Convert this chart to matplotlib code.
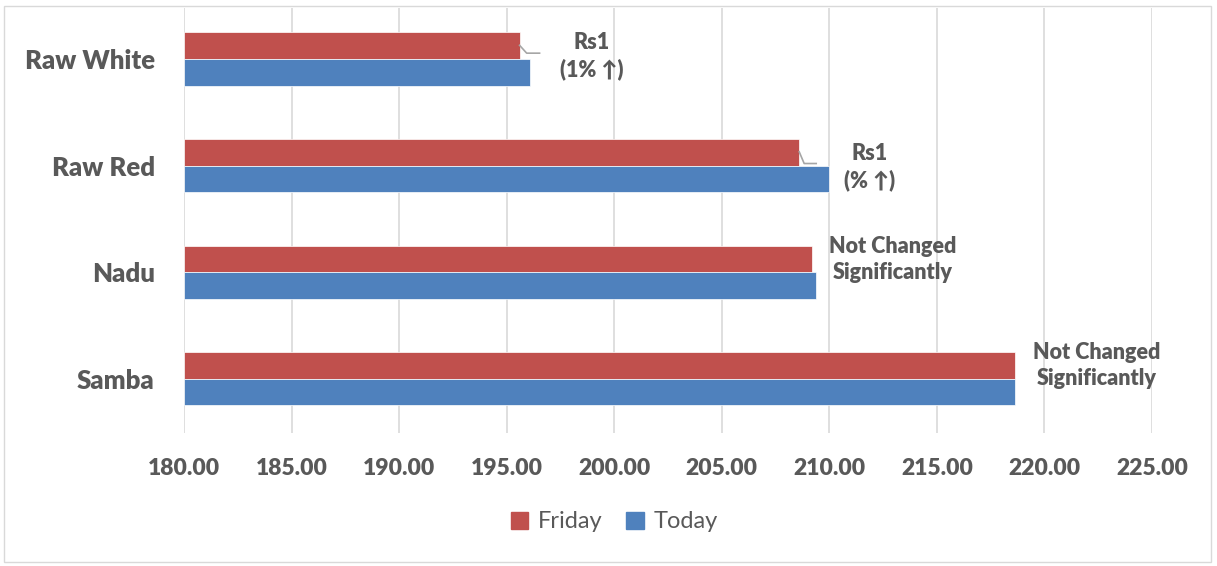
import matplotlib.pyplot as plt
import matplotlib.patches as mpatches
import numpy as np

categories = ["Raw White", "Raw Red", "Nadu", "Samba"]
friday = [195.6, 208.6, 209.2, 218.65]
today = [196.1, 210.0, 209.4, 218.65]
notes = ["Rs1\n(1% \u2191)", "Rs1\n(% \u2191)", "Not Changed\nSignificantly", "Not Changed\nSignificantly"]
ticks = np.arange(180, 226, 5)

plt.rcParams['font.family'] = ['Lato', 'DejaVu Sans']
grey = "#595959"
red = "#C0504D"
blue = "#4F81BD"
bold = 800

fig = plt.figure(figsize=(12.17, 5.66), dpi=100)
ax = fig.add_axes([184/1217, 1-433/566, (1152-184)/1217, (433-8)/566])

y = np.arange(len(categories))
h = 0.25
ax.barh(y - h/2, [f - 180 for f in friday], height=h, left=180, color=red, edgecolor="white", linewidth=0.5, label="Friday", zorder=3)
ax.barh(y + h/2, [t - 180 for t in today], height=h, left=180, color=blue, edgecolor="white", linewidth=0.5, label="Today", zorder=3)

ax.set_xlim(180, 225)
ax.set_ylim(3.51, -0.48)
ax.set_xticks(ticks)
ax.set_xticklabels(["%.2f" % t for t in ticks], fontsize=16.5, fontweight=bold, color=grey)
ax.set_yticks(y)
ax.set_yticklabels(categories, fontsize=18.5, fontweight=bold, color=grey)
ax.tick_params(length=0)
ax.tick_params(axis="x", pad=18)
ax.tick_params(axis="y", pad=21)
ax.grid(axis="x", color="#D9D9D9", linewidth=1.2, zorder=0)
for s in ax.spines.values():
    s.set_visible(False)

# annotations
label_x = [592, 870, 893, 1097]
label_dy = [-0.03, 0.015, -0.12, -0.12]
for i, note in enumerate(notes):
    lx = 180 + (label_x[i] - 184) / 21.51
    ax.text(lx, i + label_dy[i], note, ha="center", va="center", fontsize=15.5, fontweight=bold, color=grey,
            linespacing=1.3, zorder=4)
# leader lines for the first two
leader = [(0.33, 0.93, -0.13, -0.056), (0.23, 0.79, -0.13, -0.02)]
for i, (dx1, dx2, y0, y1) in enumerate(leader):
    x0 = friday[i]
    ax.plot([x0, x0 + dx1, x0 + dx2], [i + y0, i + y1, i + y1], color="#A6A6A6", linewidth=1.2, zorder=4)

handles = [mpatches.Patch(color=red, label="Friday"), mpatches.Patch(color=blue, label="Today")]
leg = fig.legend(handles=handles, loc="center", bbox_to_anchor=(614/1217, 1-522/566), ncol=2, frameon=False,
                 fontsize=17, handlelength=0.75, handleheight=0.75, handletextpad=0.4, columnspacing=1.0)
for t in leg.get_texts():
    t.set_color(grey)

fig.patches.append(mpatches.Rectangle((4/1217, 4/566), 1-10/1217, 1-10/566, transform=fig.transFigure,
                                      fill=False, edgecolor="#D9D9D9", linewidth=1))
fig.savefig("out.png", dpi=100)
